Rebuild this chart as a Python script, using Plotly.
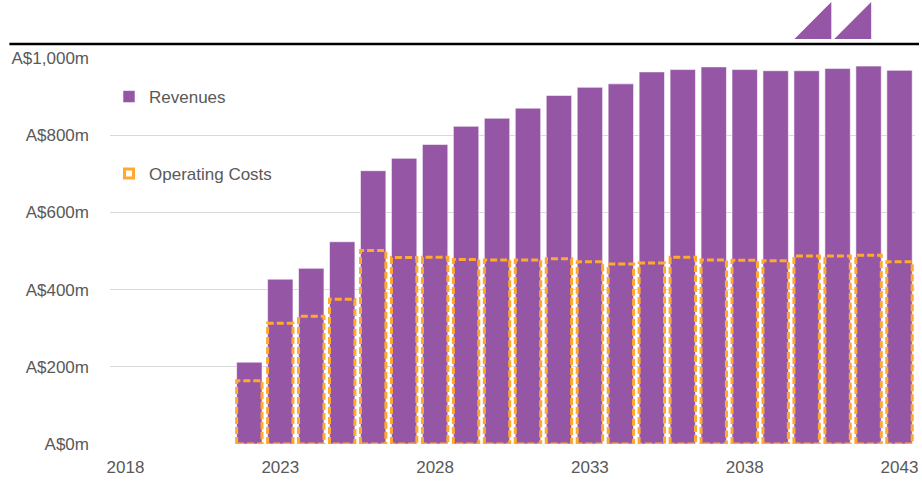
import plotly.graph_objects as go

# data (A$ millions)
years = list(range(2022, 2044))
revenues = [212, 427, 455, 524, 708, 740, 776, 823, 844, 870, 903, 924,
            933, 964, 970, 977, 970, 967, 967, 973, 979, 968]
operating_costs = [164, 313, 331, 375, 501, 483, 484, 478, 477, 477, 480, 472,
                   466, 469, 484, 477, 476, 475, 487, 487, 489, 472]
x_ticks = [2018, 2023, 2028, 2033, 2038, 2043]

PURPLE = "#9656a6"
ORANGE = "#ffa92f"
GREY_TEXT = "#595959"
BAR_WIDTH = 0.82

# plot area in pixels, used to place the decorations in paper coordinates
PLOT_L, PLOT_R, PLOT_T, PLOT_B = 110, 918, 58, 444


def px_x(x):
    return (x - PLOT_L) / (PLOT_R - PLOT_L)


def px_y(y):
    return (PLOT_B - y) / (PLOT_B - PLOT_T)


# dashed outline of each operating cost bar, built from the data
rect_x, rect_y = [], []
half = BAR_WIDTH / 2
for yr, cost in zip(years, operating_costs):
    rect_x += [yr - half, yr - half, yr + half, yr + half, yr - half, None]
    rect_y += [0, cost, cost, 0, 0, None]

fig = go.Figure()

fig.add_trace(
    go.Bar(
        name="Revenues",
        x=years,
        y=revenues,
        width=BAR_WIDTH,
        marker=dict(color=PURPLE, line=dict(color="rgba(255,255,255,0.55)", width=1)),
        legend="legend",
    )
)

fig.add_trace(
    go.Scatter(
        x=rect_x,
        y=rect_y,
        mode="lines",
        line=dict(color=ORANGE, width=3, dash="7px,3px"),
        showlegend=False,
        legendgroup="opex",
        hoverinfo="skip",
    )
)

# legend-only entry for the operating costs
fig.add_trace(
    go.Scatter(
        name="Operating Costs",
        x=[None],
        y=[None],
        mode="markers",
        marker=dict(symbol="square-open", size=9, color=ORANGE, line=dict(width=3, color=ORANGE)),
        legendgroup="opex",
        legend="legend2",
    )
)

fig.update_layout(
    width=922,
    height=482,
    margin=dict(l=PLOT_L, r=922 - PLOT_R, t=PLOT_T, b=482 - PLOT_B),
    paper_bgcolor="white",
    plot_bgcolor="white",
    barmode="overlay",
    font=dict(family="Liberation Sans, Arial, sans-serif", size=17, color=GREY_TEXT),
    legend=dict(
        x=px_x(109), xanchor="left", y=px_y(97), yanchor="middle",
        bgcolor="rgba(0,0,0,0)", font=dict(size=17, color=GREY_TEXT),
    ),
    legend2=dict(
        x=px_x(109), xanchor="left", y=px_y(174), yanchor="middle",
        bgcolor="rgba(0,0,0,0)", font=dict(size=17, color=GREY_TEXT),
    ),
    xaxis=dict(
        range=[2017.5, 2043.5],
        tickvals=x_ticks,
        ticktext=[str(t) for t in x_ticks],
        showgrid=False,
        zeroline=False,
        showline=False,
        ticks="",
        ticklabelstandoff=11,
        tickfont=dict(size=17, color=GREY_TEXT),
    ),
    yaxis=dict(
        range=[0, 1000],
        dtick=200,
        tickprefix="A$",
        ticksuffix="m",
        tickformat=",",
        showgrid=True,
        gridcolor="#d9d9d9",
        gridwidth=1,
        zeroline=False,
        showline=False,
        ticks="",
        ticklabelstandoff=20,
        tickfont=dict(size=17, color=GREY_TEXT),
    ),
    shapes=[
        # black rule across the top
        dict(
            type="line", xref="paper", yref="paper",
            x0=px_x(9), x1=px_x(922), y0=px_y(44), y1=px_y(44),
            line=dict(color="black", width=2.5),
        ),
        # logo triangles
        dict(
            type="path", xref="paper", yref="paper",
            path=f"M{px_x(797)},{px_y(39)} L{px_x(834)},{px_y(39)} L{px_x(834)},{px_y(2)} Z",
            fillcolor=PURPLE, line=dict(width=0),
        ),
        dict(
            type="path", xref="paper", yref="paper",
            path=f"M{px_x(837)},{px_y(39)} L{px_x(874)},{px_y(39)} L{px_x(874)},{px_y(2)} Z",
            fillcolor=PURPLE, line=dict(width=0),
        ),
    ],
)

fig.write_html(
    "out.html",
    config={"displayModeBar": False},
    post_script="document.body.style.margin='0px';",
)
